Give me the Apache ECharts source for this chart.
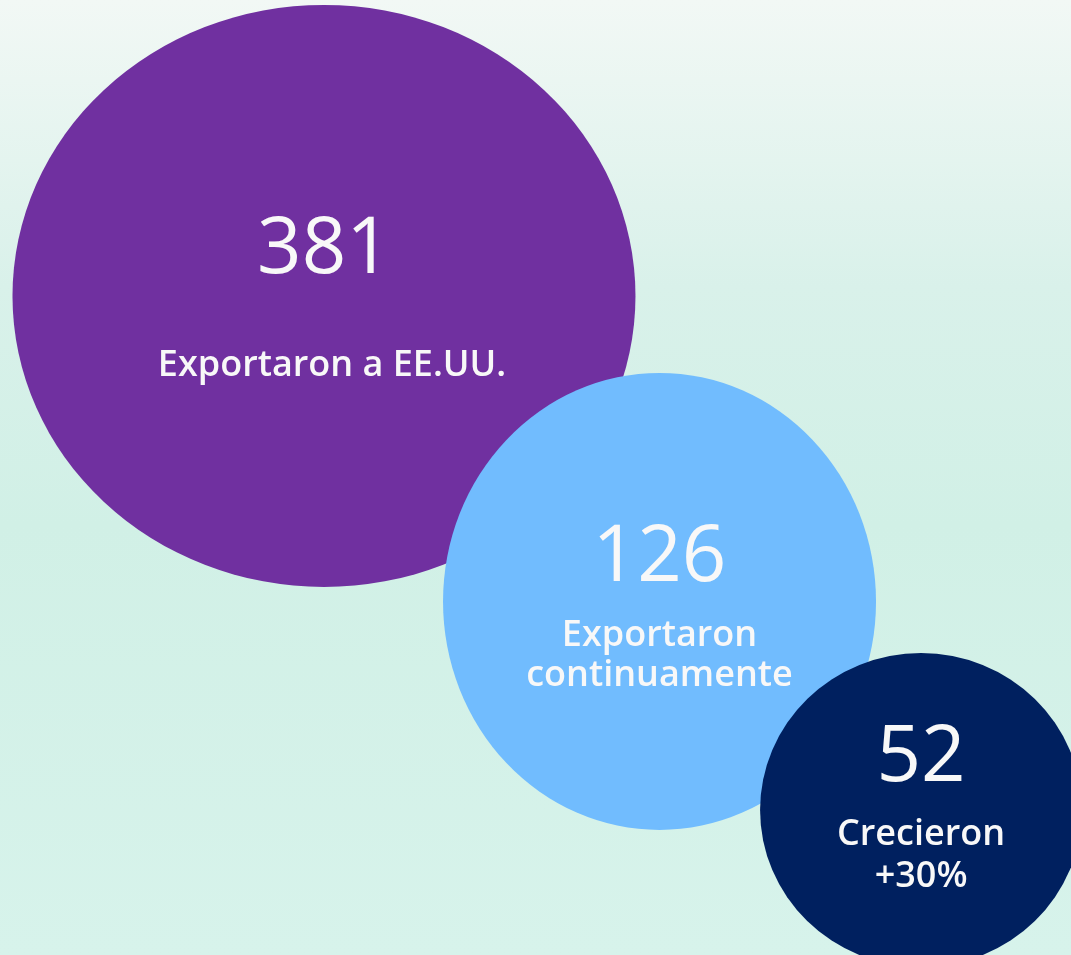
<!DOCTYPE html>
<html>
<head>
<meta charset="utf-8">
<script src="https://cdn.jsdelivr.net/npm/echarts@6/dist/echarts.min.js"></script>
<style>
html,body{margin:0;padding:0;}
#chart{width:1071px;height:955px;}
</style>
</head>
<body>
<div id="chart"></div>
<script>
// ---- data ----
var values = [381, 126, 52];
var labels = ['Exportaron a EE.UU.', 'Exportaron\ncontinuamente', 'Crecieron\n+30%'];
var colors = ['#7030A0', '#71BCFE', '#00205F'];
// layout (percent of the canvas) and bubble sizes in px [w, h]
var posX = [30.25, 61.58, 86.0];
var posY = [30.99, 62.98, 84.82];
var sizes = [[623, 582], [433, 457], [322, 314]];
var numLineH = [128, 115, 109];
var txtLineH = [103, 40, 42];
var labelOffsetY = [6, -3, -9];
var labelPadLeft = [16, 0, 0];

var ellipse = 'path://M0,50 A50,50 0 1,1 100,50 A50,50 0 1,1 0,50 Z';

var dataItems = values.map(function (v, i) {
  return {
    value: [posX[i], posY[i], v],
    symbolSize: sizes[i],
    itemStyle: { color: colors[i], opacity: 1 },
    label: {
      offset: [0, labelOffsetY[i]],
      rich: {
        n: { fontSize: 78, fontFamily: 'Open Sans', fontWeight: 400, color: '#F8F8F8', lineHeight: numLineH[i], align: 'center' },
        t: { fontSize: 36, fontFamily: 'Open Sans', fontWeight: 600, color: '#F8F8F8', lineHeight: txtLineH[i], align: 'center', padding: [0, 0, 0, labelPadLeft[i]] }
      }
    },
    name: labels[i]
  };
});

var chart = echarts.init(document.getElementById('chart'), null, { renderer: 'canvas' });
chart.setOption({
  animation: false,
  backgroundColor: {
    type: 'linear', x: 0, y: 0, x2: 0, y2: 1,
    colorStops: [
      { offset: 0, color: '#F2F8F5' },
      { offset: 0.3, color: '#D9F1EA' },
      { offset: 0.55, color: '#D1F0E6' },
      { offset: 1, color: '#D7F3EB' }
    ]
  },
  grid: { left: 0, right: 0, top: 0, bottom: 0 },
  xAxis: { type: 'value', min: 0, max: 100, show: false },
  yAxis: { type: 'value', min: 0, max: 100, inverse: true, show: false },
  series: [{
    type: 'scatter',
    symbol: ellipse,
    symbolKeepAspect: false,
    itemStyle: { opacity: 1 },
    data: dataItems,
    label: {
      show: true,
      position: 'inside',
      align: 'center',
      verticalAlign: 'middle',
      formatter: function (p) {
        var lines = p.name.split('\n').map(function (s) { return '{t|' + s + '}'; });
        return '{n|' + p.value[2] + '}\n' + lines.join('\n');
      }
    },
    emphasis: { disabled: true }
  }]
});
</script>
</body>
</html>
